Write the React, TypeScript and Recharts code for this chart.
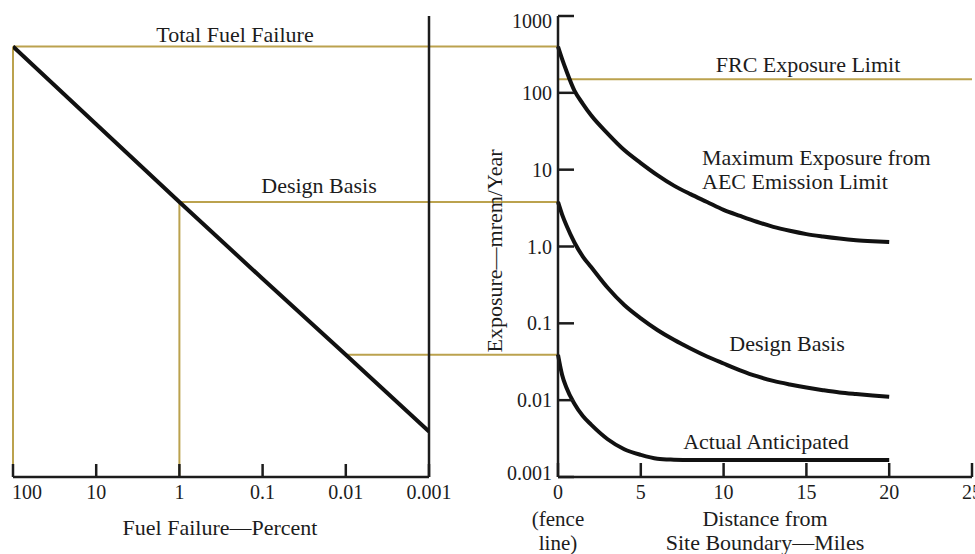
import React from "react";
import { LineChart, Line, XAxis, YAxis, ReferenceLine } from "recharts";

// left panel: exposure vs. fuel failure (log-log)
const fuelPct = [100, 10, 1, 0.1, 0.01, 0.001];
const fuelExposure = [400, 39, 3.8, 0.38, 0.039, 0.0039];
const fuelTicks = [100, 10, 1, 0.1, 0.01, 0.001];

// right panel: exposure vs. distance from site boundary
const miles = [0, 0.25, 0.5, 1, 1.5, 2, 3, 4, 5, 6, 7, 8, 9, 10, 11, 12, 13, 14, 15, 16, 17, 18, 19, 20];
const aecLimit = [400, 275, 195, 106, 72, 51, 29.5, 18, 12.2, 8.5, 6.2, 4.8, 3.8, 3.0, 2.5, 2.1, 1.8, 1.6, 1.45, 1.35, 1.27, 1.21, 1.17, 1.14];
const designBasis = [3.8, 2.6, 1.9, 1.12, 0.74, 0.54, 0.29, 0.173, 0.116, 0.082, 0.061, 0.047, 0.037, 0.03, 0.0245, 0.0205, 0.0178, 0.016, 0.0146, 0.0135, 0.0126, 0.012, 0.0115, 0.0111];
const actualAnticipated = [0.039, 0.0213, 0.0147, 0.0089, 0.0062, 0.0048, 0.0031, 0.0023, 0.00194, 0.00173, 0.00168, 0.00166, 0.00166, 0.00166, 0.00166, 0.00166, 0.00166, 0.00166, 0.00166, 0.00166, 0.00166, 0.00166, 0.00166, 0.00166];
const mileTicks = [0, 5, 10, 15, 20, 25];
const exposureTicks = [0.001, 0.01, 0.1, 1, 10, 100, 1000];
const exposureTickLabels = ["0.001", "0.01", "0.1", "1.0", "10", "100", "1000"];

const frcLimit = 150;
const totalFailure = { pct: 100, exposure: 400 };
const designPoint = { pct: 1, exposure: 3.8 };
const lowPoint = { pct: 0.01, exposure: 0.039 };
// fuel-percent value that lands on the exposure axis of the right panel
const axisJoinPct = 2.8e-5;

const INK = "#1c1c1c";
const OLIVE = "#bba24e";
const FONT = "'Liberation Serif', 'Times New Roman', serif";

const fuelRows = fuelPct.map((pct, i) => ({ pct, exposure: fuelExposure[i] }));
const distRows = miles.map((mi, i) => ({
  mi,
  aec: aecLimit[i],
  design: designBasis[i],
  actual: actualAnticipated[i],
}));

function FuelTick(props: any) {
  const { x, y, payload } = props;
  const first = payload.value === fuelTicks[0];
  return (
    <text
      x={first ? x - 1 : x}
      y={y + 14}
      textAnchor={first ? "start" : "middle"}
      fontFamily={FONT}
      fontSize={20}
      fill={INK}
    >
      {String(payload.value)}
    </text>
  );
}

function MileTick(props: any) {
  const { x, y, payload } = props;
  return (
    <g fontFamily={FONT} fill={INK} textAnchor="middle">
      <text x={x} y={y + 14} fontSize={20}>
        {String(payload.value)}
      </text>
      {payload.value === 0 && (
        <>
          <text x={x} y={y + 41} fontSize={21}>
            (fence
          </text>
          <text x={x} y={y + 65} fontSize={21}>
            line)
          </text>
        </>
      )}
    </g>
  );
}

function ExposureTick(props: any) {
  const { x, y, payload } = props;
  const idx = exposureTicks.indexOf(payload.value);
  const dy = payload.value === 1000 ? 12 : payload.value === 0.001 ? 3 : 7;
  return (
    <text x={x} y={y + dy} textAnchor="end" fontFamily={FONT} fontSize={20} fill={INK}>
      {exposureTickLabels[idx]}
    </text>
  );
}

export default function App() {
  return (
    <div style={{ position: "absolute", left: 0, top: 0, width: 975, height: 554, background: "#fff", overflow: "hidden" }}>
      <div style={{ position: "absolute", left: 0, top: 0 }}>
        <LineChart width={560} height={554} data={fuelRows} margin={{ top: 16, right: 131, bottom: 0, left: 13 }}>
          <XAxis
            type="number"
            dataKey="pct"
            scale="log"
            domain={[0.001, 100]}
            reversed
            allowDataOverflow
            ticks={fuelTicks}
            interval={0}
            height={77}
            tickSize={-13}
            tickMargin={21}
            axisLine={{ stroke: INK, strokeWidth: 2.5 }}
            tickLine={{ stroke: INK, strokeWidth: 2.5 }}
            tick={<FuelTick />}
          />
          <YAxis hide type="number" scale="log" domain={[0.001, 1000]} allowDataOverflow />
          <ReferenceLine
            segment={[{ x: totalFailure.pct, y: 0.001 }, { x: totalFailure.pct, y: totalFailure.exposure }]}
            stroke={OLIVE}
            strokeWidth={2}
            ifOverflow="visible"
          />
          <ReferenceLine
            segment={[{ x: designPoint.pct, y: 0.001 }, { x: designPoint.pct, y: designPoint.exposure }]}
            stroke={OLIVE}
            strokeWidth={2}
            ifOverflow="visible"
          />
          <ReferenceLine
            segment={[{ x: totalFailure.pct, y: totalFailure.exposure }, { x: axisJoinPct, y: totalFailure.exposure }]}
            stroke={OLIVE}
            strokeWidth={2}
            ifOverflow="visible"
          />
          <ReferenceLine
            segment={[{ x: designPoint.pct, y: designPoint.exposure }, { x: axisJoinPct, y: designPoint.exposure }]}
            stroke={OLIVE}
            strokeWidth={2}
            ifOverflow="visible"
          />
          <ReferenceLine
            segment={[{ x: lowPoint.pct, y: lowPoint.exposure }, { x: axisJoinPct, y: lowPoint.exposure }]}
            stroke={OLIVE}
            strokeWidth={2}
            ifOverflow="visible"
          />
          <ReferenceLine x={0.001} stroke={INK} strokeWidth={2.5} />
          <Line
            type="linear"
            dataKey="exposure"
            stroke="#111"
            strokeWidth={4}
            dot={false}
            isAnimationActive={false}
          />
          <text x={235} y={42} textAnchor="middle" fontFamily={FONT} fontSize={22} fill={INK}>
            Total Fuel Failure
          </text>
          <text x={319} y={193} textAnchor="middle" fontFamily={FONT} fontSize={22} fill={INK}>
            Design Basis
          </text>
          <text x={220} y={535} textAnchor="middle" fontFamily={FONT} fontSize={22} fill={INK}>
            Fuel Failure—Percent
          </text>
        </LineChart>
      </div>

      <div style={{ position: "absolute", left: 470, top: 0 }}>
        <LineChart width={505} height={554} data={distRows} margin={{ top: 16, right: 3, bottom: 0, left: 0 }}>
          <XAxis
            type="number"
            dataKey="mi"
            domain={[0, 25]}
            ticks={mileTicks}
            interval={0}
            height={77}
            tickSize={-14}
            tickMargin={22}
            axisLine={{ stroke: INK, strokeWidth: 2.5 }}
            tickLine={{ stroke: INK, strokeWidth: 2.5 }}
            tick={<MileTick />}
          />
          <YAxis
            type="number"
            scale="log"
            domain={[0.001, 1000]}
            allowDataOverflow
            ticks={exposureTicks}
            interval={0}
            width={88}
            tickSize={-16}
            tickMargin={22}
            axisLine={{ stroke: INK, strokeWidth: 2.5 }}
            tickLine={{ stroke: INK, strokeWidth: 2.5 }}
            tick={<ExposureTick />}
          />
          <ReferenceLine y={frcLimit} stroke={OLIVE} strokeWidth={2} />
          <Line type="monotone" dataKey="aec" stroke="#111" strokeWidth={4} dot={false} isAnimationActive={false} />
          <Line type="monotone" dataKey="design" stroke="#111" strokeWidth={4} dot={false} isAnimationActive={false} />
          <Line type="monotone" dataKey="actual" stroke="#111" strokeWidth={4} dot={false} isAnimationActive={false} />
          <text x={338} y={72} textAnchor="middle" fontFamily={FONT} fontSize={22} fill={INK}>
            FRC Exposure Limit
          </text>
          <text x={232} y={165} fontFamily={FONT} fontSize={22} fill={INK}>
            Maximum Exposure from
          </text>
          <text x={232} y={189} fontFamily={FONT} fontSize={22} fill={INK}>
            AEC Emission Limit
          </text>
          <text x={317} y={351} textAnchor="middle" fontFamily={FONT} fontSize={22} fill={INK}>
            Design Basis
          </text>
          <text x={296} y={449} textAnchor="middle" fontFamily={FONT} fontSize={22} fill={INK}>
            Actual Anticipated
          </text>
          <text x={295} y={526} textAnchor="middle" fontFamily={FONT} fontSize={22} fill={INK}>
            Distance from
          </text>
          <text x={295} y={550} textAnchor="middle" fontFamily={FONT} fontSize={22} fill={INK}>
            Site Boundary—Miles
          </text>
          <text
            x={32}
            y={251}
            transform="rotate(-90, 32, 251)"
            textAnchor="middle"
            fontFamily={FONT}
            fontSize={22}
            fill={INK}
          >
            Exposure—mrem/Year
          </text>
        </LineChart>
      </div>
    </div>
  );
}
